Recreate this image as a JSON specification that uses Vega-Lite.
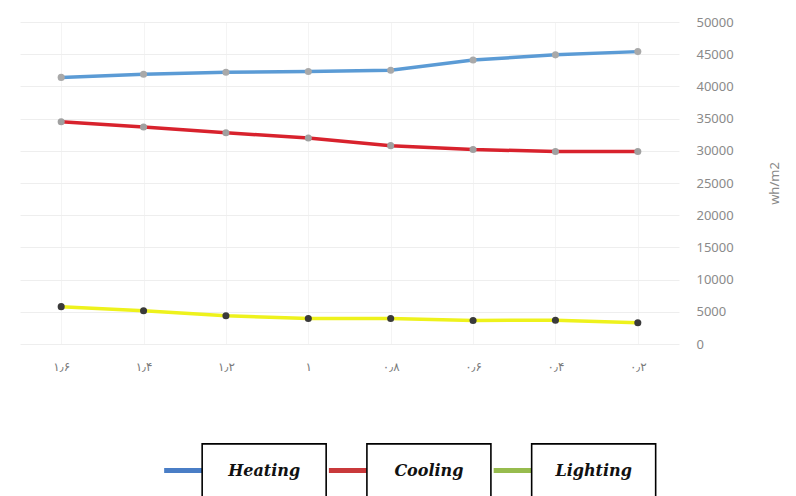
{
  "$schema": "https://vega.github.io/schema/vega-lite/v6.json",
  "background": "white",
  "padding": {"left": 20, "top": 16, "right": 5, "bottom": 0},
  "datasets": {
    "energy": [
      {"x": "۱٫۶", "series": "Heating", "value": 41400},
      {"x": "۱٫۴", "series": "Heating", "value": 41900},
      {"x": "۱٫۲", "series": "Heating", "value": 42200},
      {"x": "۱", "series": "Heating", "value": 42300},
      {"x": "۰٫۸", "series": "Heating", "value": 42500},
      {"x": "۰٫۶", "series": "Heating", "value": 44100},
      {"x": "۰٫۴", "series": "Heating", "value": 44900},
      {"x": "۰٫۲", "series": "Heating", "value": 45400},
      {"x": "۱٫۶", "series": "Cooling", "value": 34500},
      {"x": "۱٫۴", "series": "Cooling", "value": 33700},
      {"x": "۱٫۲", "series": "Cooling", "value": 32800},
      {"x": "۱", "series": "Cooling", "value": 32000},
      {"x": "۰٫۸", "series": "Cooling", "value": 30800},
      {"x": "۰٫۶", "series": "Cooling", "value": 30200},
      {"x": "۰٫۴", "series": "Cooling", "value": 29900},
      {"x": "۰٫۲", "series": "Cooling", "value": 29900},
      {"x": "۱٫۶", "series": "Lighting", "value": 5800},
      {"x": "۱٫۴", "series": "Lighting", "value": 5150},
      {"x": "۱٫۲", "series": "Lighting", "value": 4400},
      {"x": "۱", "series": "Lighting", "value": 3950},
      {"x": "۰٫۸", "series": "Lighting", "value": 3950},
      {"x": "۰٫۶", "series": "Lighting", "value": 3650},
      {"x": "۰٫۴", "series": "Lighting", "value": 3700},
      {"x": "۰٫۲", "series": "Lighting", "value": 3300}
    ],
    "legendItems": [
      {"series": "Heating"},
      {"series": "Cooling"},
      {"series": "Lighting"}
    ]
  },
  "config": {
    "view": {"stroke": null},
    "concat": {"spacing": 68}
  },
  "resolve": {"scale": {"color": "independent", "fill": "independent", "x": "independent"}},
  "vconcat": [
    {
      "width": 659,
      "height": 322,
      "data": {"name": "energy"},
      "encoding": {
        "x": {
          "field": "x",
          "type": "nominal",
          "sort": null,
          "scale": {"type": "point", "padding": 0.5},
          "axis": {
            "title": null,
            "labelAngle": 0,
            "labelPadding": 17,
            "labelColor": "#7a7a7a",
            "labelFont": "DejaVu Sans",
            "labelFontSize": 12,
            "ticks": false,
            "domain": false,
            "grid": true,
            "gridColor": "#f4f4f4"
          }
        },
        "y": {
          "field": "value",
          "type": "quantitative",
          "scale": {"domain": [0, 50000]},
          "axis": {
            "orient": "right",
            "title": "wh/m2",
            "titleAngle": 270,
            "titleFont": "Noto Sans",
            "titleFontWeight": "normal",
            "titleFontSize": 13,
            "titleColor": "#8a8a8a",
            "titlePadding": 48,
            "values": [0, 5000, 10000, 15000, 20000, 25000, 30000, 35000, 40000, 45000, 50000],
            "format": "d",
            "labelPadding": 17,
            "labelColor": "#8a8a8a",
            "labelFont": "Noto Sans",
            "labelFontSize": 13,
            "ticks": false,
            "domain": false,
            "gridColor": "#eeeeee"
          }
        }
      },
      "layer": [
        {
          "mark": {"type": "line", "strokeWidth": 3.5},
          "encoding": {
            "color": {
              "field": "series",
              "type": "nominal",
              "scale": {"domain": ["Heating", "Cooling", "Lighting"], "range": ["#5b9bd5", "#d8222d", "#eef21c"]},
              "legend": null
            }
          }
        },
        {
          "mark": {"type": "point", "filled": true, "size": 50, "opacity": 1},
          "encoding": {
            "fill": {
              "field": "series",
              "type": "nominal",
              "scale": {"domain": ["Heating", "Cooling", "Lighting"], "range": ["#a9a9a9", "#a0a0a0", "#3a3a3a"]},
              "legend": null
            }
          }
        }
      ]
    },
    {
      "width": 659,
      "height": 53,
      "data": {"name": "legendItems"},
      "encoding": {
        "x": {
          "field": "series",
          "type": "nominal",
          "sort": null,
          "scale": {"type": "point", "padding": 1.015, "align": 0.741},
          "axis": null
        }
      },
      "layer": [
        {
          "mark": {
            "type": "point",
            "shape": "M-1,-0.125 L1,-0.125 L1,0.125 L-1,0.125 Z",
            "size": 1600,
            "filled": true,
            "opacity": 1,
            "xOffset": -80
          },
          "encoding": {
            "fill": {
              "field": "series",
              "type": "nominal",
              "scale": {"domain": ["Heating", "Cooling", "Lighting"], "range": ["#4a7ec6", "#c9393b", "#97bc4e"]},
              "legend": null
            }
          }
        },
        {
          "mark": {
            "type": "point",
            "shape": "M-1,-0.43 L1,-0.43 L1,0.43 L-1,0.43 Z",
            "size": 15376,
            "filled": false,
            "fill": "white",
            "fillOpacity": 1,
            "stroke": "black",
            "strokeWidth": 1.6,
            "opacity": 1
          },
          "encoding": {}
        },
        {
          "mark": {
            "type": "text",
            "font": "DejaVu Serif",
            "fontStyle": "italic",
            "fontWeight": "bold",
            "fontSize": 16,
            "color": "#111111"
          },
          "encoding": {"text": {"field": "series"}}
        }
      ]
    }
  ]
}
